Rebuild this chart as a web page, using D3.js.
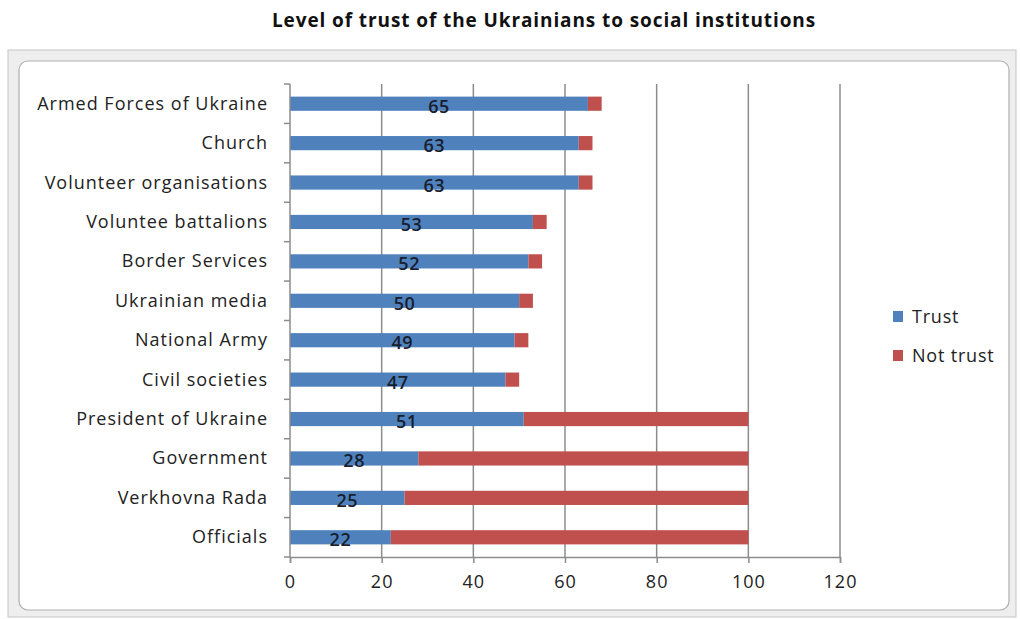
<!DOCTYPE html>
<html>
<head>
<meta charset="utf-8">
<script src="https://cdn.jsdelivr.net/npm/d3@7"></script>
<style>
  body { margin: 0; background: #fff; }
  text { font-family: "Open Sans", "Noto Sans", sans-serif; }
</style>
</head>
<body>
<div id="chart"></div>
<script>
// Chart data
const categories = ["Armed Forces of Ukraine", "Church", "Volunteer organisations", "Voluntee battalions",
  "Border Services", "Ukrainian media", "National Army", "Civil societies", "President of Ukraine",
  "Government", "Verkhovna Rada", "Officials"];
const trust = [65, 63, 63, 53, 52, 50, 49, 47, 51, 28, 25, 22];
const notTrust = [3, 3, 3, 3, 3, 3, 3, 3, 49, 72, 75, 78];
const seriesNames = ["Trust", "Not trust"];
const xTicks = [0, 20, 40, 60, 80, 100, 120];

const width = 1020, height = 619;
const colors = ["#4f81bd", "#c0504d"];

const svg = d3.select("#chart").append("svg")
  .attr("width", width)
  .attr("height", height);

// Title
svg.append("text")
  .attr("x", 544)
  .attr("y", 27)
  .attr("text-anchor", "middle")
  .style("font-weight", "bold")
  .style("font-size", "19px")
  .style("letter-spacing", "0.9px")
  .attr("fill", "#111")
  .text("Level of trust of the Ukrainians to social institutions");

// Chart area frame (Excel style)
svg.append("rect")
  .attr("x", 8).attr("y", 50)
  .attr("width", 1008).attr("height", 567)
  .attr("fill", "#eeeeee")
  .attr("stroke", "#c4c4c4");
svg.append("rect")
  .attr("x", 19).attr("y", 61)
  .attr("width", 990).attr("height", 549)
  .attr("rx", 9)
  .attr("fill", "#fff")
  .attr("stroke", "#b0b0b0")
  .attr("stroke-width", 1.2);

// Scales
const x = d3.scaleLinear()
  .domain([0, 120])
  .range([290, 840]);

const y = d3.scaleBand()
  .domain(categories)
  .range([84, 557])
  .paddingInner(0.64)
  .paddingOuter(0.32);

// Vertical gridlines
svg.append("g")
  .selectAll("line")
  .data(xTicks.slice(1))
  .join("line")
  .attr("x1", d => x(d)).attr("x2", d => x(d))
  .attr("y1", 84).attr("y2", 557)
  .attr("stroke", "#8c8c8c")
  .attr("stroke-width", 1.5);

// Stacked bars
const stacked = categories.map((c, i) => ({cat: c, values: [[0, trust[i]], [trust[i], trust[i] + notTrust[i]]]}));

seriesNames.forEach((name, s) => {
  svg.append("g")
    .selectAll("rect")
    .data(stacked)
    .join("rect")
    .attr("x", d => x(d.values[s][0]))
    .attr("y", d => y(d.cat))
    .attr("width", d => x(d.values[s][1]) - x(d.values[s][0]))
    .attr("height", y.bandwidth())
    .attr("fill", colors[s]);
});

// Data labels for trust
svg.append("g")
  .selectAll("text")
  .data(stacked)
  .join("text")
  .attr("x", d => x(d.values[0][1] / 2))
  .attr("y", d => y(d.cat) + y.bandwidth() / 2 + 9)
  .attr("text-anchor", "middle")
  .style("font-size", "18px")
  .style("font-weight", "600")
  .style("letter-spacing", "0.5px")
  .attr("fill", "#17202e")
  .text(d => d.values[0][1]);

// Y axis
const yAxis = svg.append("g")
  .attr("transform", "translate(290,0)");
yAxis.append("line")
  .attr("x1", 0).attr("x2", 0)
  .attr("y1", 84).attr("y2", 557)
  .attr("stroke", "#8c8c8c").attr("stroke-width", 1.5);
yAxis.selectAll(".tick")
  .data(d3.range(categories.length + 1))
  .join("line")
  .attr("x1", -6).attr("x2", 0)
  .attr("y1", i => 84 + i * y.step())
  .attr("y2", i => 84 + i * y.step())
  .attr("stroke", "#8c8c8c").attr("stroke-width", 1.5);
yAxis.selectAll("text")
  .data(categories)
  .join("text")
  .attr("x", -22)
  .attr("y", d => y(d) + y.bandwidth() / 2 + 6)
  .attr("text-anchor", "end")
  .style("font-size", "18px")
  .style("letter-spacing", "1px")
  .attr("fill", "#222")
  .text(d => d);

// X axis
svg.append("g")
  .attr("transform", "translate(0,557)")
  .call(d3.axisBottom(x).tickValues(xTicks).tickSize(6).tickPadding(12))
  .call(g => g.select(".domain").attr("stroke", "#8c8c8c").attr("stroke-width", 1.5))
  .call(g => g.selectAll(".tick line").attr("stroke", "#8c8c8c").attr("stroke-width", 1.5))
  .call(g => g.selectAll(".tick text")
    .style("font-size", "18px")
    .style("letter-spacing", "1px")
    .style("font-family", "'Open Sans', 'Noto Sans', sans-serif")
    .attr("fill", "#222"));

// Legend
const legend = svg.append("g")
  .attr("transform", "translate(893,311)");
seriesNames.forEach((name, i) => {
  legend.append("rect")
    .attr("x", 0).attr("y", i * 39)
    .attr("width", 10).attr("height", 11)
    .attr("fill", colors[i]);
  legend.append("text")
    .attr("x", 19).attr("y", i * 39 + 12)
    .style("font-size", "18px")
    .style("letter-spacing", "0.8px")
    .attr("fill", "#222")
    .text(name);
});
</script>
</body>
</html>
